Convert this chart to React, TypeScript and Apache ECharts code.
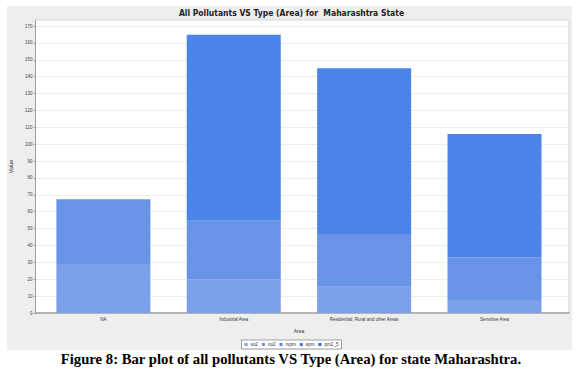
import React, { useEffect, useRef } from "react";
import * as echarts from "echarts";

const categories = ["NA", "Industrial Area", "Residential, Rural and other Areas", "Sensitive Area"];
const so2 = [29.0, 20.0, 15.6, 7.7];
const no2 = [38.4, 34.7, 31.2, 25.3];
const rspm = [0, 110.2, 98.2, 73.0];
const spm = [0, 0, 0, 0];
const pm2_5 = [0, 0, 0, 0];
const seriesNames = ["so2", "no2", "rspm", "spm", "pm2_5"];
const seriesColors = ["#7b9fe9", "#6893e6", "#4a84e8", "#3a78e6", "#2b6be2"];
const yMax = 173.6;

export default function App() {
  const ref = useRef<HTMLDivElement>(null);
  useEffect(() => {
    if (!ref.current) return;
    const chart = echarts.init(ref.current, null, { renderer: "svg" });
    const data = [so2, no2, rspm, spm, pm2_5];
    chart.setOption({
      animation: false,
      title: {
        text: "All Pollutants VS Type (Area) for  Maharashtra State",
        left: "center",
        top: 8,
        textStyle: {
          fontFamily: "'Liberation Sans Narrow', 'DejaVu Sans Condensed', sans-serif",
          fontWeight: "bold",
          fontSize: 8.5,
          color: "#222",
        },
        padding: 0,
      },
      grid: [
        { left: 30, right: 14, top: 20, bottom: 65, show: true, backgroundColor: "#ffffff", borderColor: "#d4d4d4", borderWidth: 1 },
        { left: 38.2, right: 23.3, top: 20, bottom: 65 },
      ],
      xAxis: [
        {
          gridIndex: 0, type: "value", min: 0, max: 1,
          axisLine: { show: true, lineStyle: { color: "#a0a0a0", width: 1.5 } },
          axisTick: { show: false }, axisLabel: { show: false }, splitLine: { show: false },
        },
        {
          gridIndex: 1, type: "category", data: categories,
          axisLine: { show: false }, axisTick: { show: false },
          axisLabel: { fontSize: 4.5, color: "#333", margin: 4, fontFamily: "'Liberation Sans', sans-serif", interval: 0 },
          name: "Area", nameLocation: "middle", nameGap: 15,
          nameTextStyle: { fontSize: 5, color: "#333", fontFamily: "'Liberation Sans', sans-serif" },
        },
      ],
      yAxis: [
        {
          gridIndex: 0, type: "value", min: 0, max: yMax, interval: 10,
          axisLine: { show: true, lineStyle: { color: "#a0a0a0" } },
          axisTick: { show: true, length: 2, lineStyle: { color: "#a0a0a0" } },
          axisLabel: { fontSize: 4.5, color: "#444", margin: 3, showMaxLabel: false, fontFamily: "'Liberation Sans', sans-serif" },
          splitLine: { show: true, lineStyle: { color: "#eeeeee", width: 1 } },
          name: "Value", nameLocation: "middle", nameGap: 13, nameRotate: 90,
          nameTextStyle: { fontSize: 5.5, color: "#333", fontFamily: "'Liberation Sans', sans-serif" },
        },
        { gridIndex: 1, type: "value", min: 0, max: yMax, show: false },
      ],
      legend: {
        data: seriesNames,
        left: "center",
        top: 340,
        itemWidth: 3,
        itemHeight: 3,
        itemGap: 4,
        icon: "rect",
        padding: [2, 3],
        borderColor: "#8a8a8a",
        borderWidth: 0.8,
        backgroundColor: "#ffffff",
        textStyle: { fontSize: 4.6, color: "#333", padding: [0, 0, 0, -2], fontFamily: "'Liberation Sans', sans-serif" },
      },
      series: seriesNames.map((n, i) => ({
        name: n,
        type: "bar",
        stack: "total",
        xAxisIndex: 1,
        yAxisIndex: 1,
        barWidth: 94,
        data: data[i],
        itemStyle: { color: seriesColors[i] },
      })),
      graphic: [
        {
          type: "text",
          left: "center",
          top: 351,
          style: {
            text: "Figure 8: Bar plot of all pollutants VS Type (Area) for state Maharashtra.",
            fontFamily: "'Liberation Serif', 'Times New Roman', serif",
            fontWeight: "bold",
            fontSize: 14.7,
            fill: "#000",
          },
        },
      ],
    });
    return () => chart.dispose();
  }, []);
  return (
    <div style={{ position: "fixed", left: 0, top: 0, width: 583, height: 378, background: "#ffffff" }}>
      <div style={{ position: "absolute", left: 7, top: 6, width: 565, height: 344, background: "#eeeeee" }} />
      <div ref={ref} style={{ position: "absolute", left: 0, top: 0, width: 583, height: 378 }} />
    </div>
  );
}
